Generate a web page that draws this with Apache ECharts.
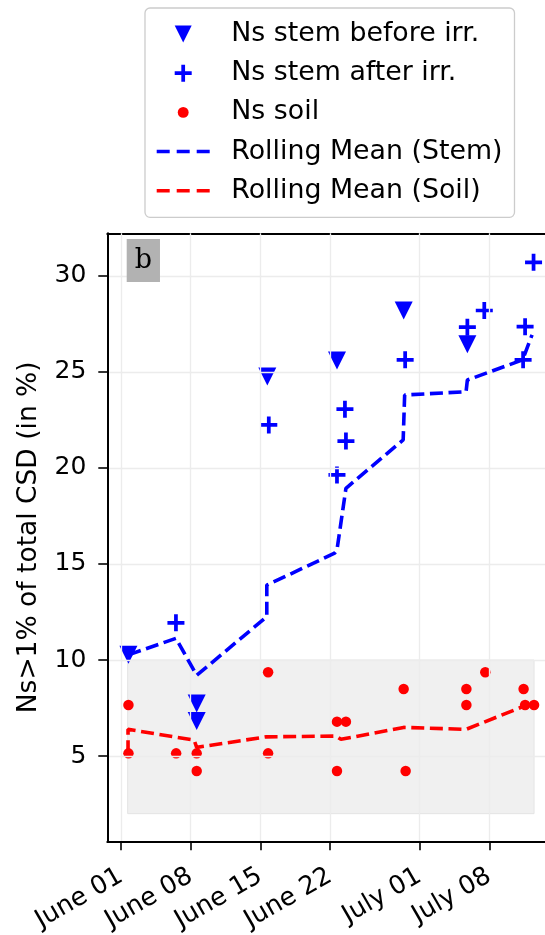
<!DOCTYPE html>
<html><head><meta charset="utf-8">
<script src="https://cdn.jsdelivr.net/npm/echarts@6/dist/echarts.min.js"></script>
<style>html,body{margin:0;padding:0;background:#fff}#c{width:545px;height:935px}</style>
</head><body><div id="c"></div>
<script>
// ---- tick labels ----
const xTickDates = ['2023-06-01','2023-06-08','2023-06-15','2023-06-22','2023-07-01','2023-07-08'];
const xTickLabels = ['June 01','June 08','June 15','June 22','July 01','July 08'];
const yTicks = [5,10,15,20,25,30];

// ---- Ns stem before irrigation ----
const beforeDates = ['2023-06-01 18:00','2023-06-08 14:30','2023-06-08 14:30','2023-06-15 16:48','2023-06-22 16:48','2023-06-29 09:36','2023-07-05 19:12'];
const beforeVals  = [10.27, 7.74, 6.82, 24.76, 25.60, 28.20, 26.44];

// ---- Ns stem after irrigation ----
const afterDates = ['2023-06-06 12:30','2023-06-15 20:24','2023-06-22 16:48','2023-06-23 12:00','2023-06-23 14:24','2023-06-29 13:12','2023-07-05 19:12','2023-07-07 12:00','2023-07-11 09:36','2023-07-11 14:24','2023-07-12 10:48'];
const afterVals  = [11.94, 22.24, 19.64, 23.06, 21.40, 25.63, 27.33, 28.20, 25.63, 27.36, 30.71];

// ---- Ns soil ----
const soilDates = ['2023-06-01 18:00','2023-06-01 18:00','2023-06-06 13:00','2023-06-08 14:30','2023-06-08 14:30','2023-06-15 18:43','2023-06-15 18:43','2023-06-22 16:48','2023-06-22 16:48','2023-06-23 14:24','2023-06-29 09:36','2023-06-29 14:24','2023-07-05 16:48','2023-07-05 16:48','2023-07-07 14:24','2023-07-11 10:48','2023-07-11 14:24','2023-07-12 12:00'];
const soilVals  = [7.66, 5.14, 5.14, 5.14, 4.22, 9.36, 5.14, 6.79, 4.22, 6.79, 8.49, 4.22, 8.49, 7.66, 9.36, 8.49, 7.66, 7.66];

// ---- Rolling mean (stem) ----
const stemMeanDates = ['2023-06-01 18:00','2023-06-06 12:30','2023-06-08 14:30','2023-06-15 15:36','2023-06-15 15:36','2023-06-22 11:02','2023-06-22 16:48','2023-06-23 14:24','2023-06-29 08:24','2023-06-29 12:00','2023-07-05 16:05','2023-07-05 19:12','2023-07-11 08:24','2023-07-12 07:12'];
const stemMeanVals  = [10.27, 11.13, 9.20, 12.26, 13.90, 15.56, 15.73, 18.94, 21.46, 23.80, 23.97, 24.58, 25.63, 26.93];

// ---- Rolling mean (soil) ----
const soilMeanDates = ['2023-06-01 17:00','2023-06-01 17:00','2023-06-08 08:24','2023-06-08 14:30','2023-06-15 14:24','2023-06-22 14:24','2023-06-23 02:24','2023-06-29 09:36','2023-07-05 16:05','2023-07-11 12:00','2023-07-12 12:00'];
const soilMeanVals  = [5.14, 6.39, 5.83, 5.45, 6.00, 6.04, 5.87, 6.49, 6.39, 7.60, 7.66];

// ---- shaded band ----
const bandDates = ['2023-06-01 16:00','2023-07-12 12:00'];
const bandVals = [2, 10];

const xMinDate = '2023-05-30 15:00', xMaxDate = '2023-07-13 14:24';
const yMin = 0.56, yMax = 32.22;

// dates -> days since June 1 (value axis)
const BASE = echarts.number.parseDate('2023-06-01').getTime();
const dayOf = d => (echarts.number.parseDate(d).getTime() - BASE) / 86400000;
const zip = (a, b) => a.map((d, i) => [dayOf(d), b[i]]);
const xTicks = xTickDates.map(dayOf);
const FONT = 'DejaVu Sans';
const PLUS = 'path://M39 0H61V39H100V61H61V100H39V61H0V39H39Z';
const TRI_DOWN = 'path://M0 0H100L50 100Z';
const DOT = 'path://M0 0M100 100M18 50A32 32 0 1 1 82 50A32 32 0 1 1 18 50Z';
const DASHES = 'path://M0 0H13V3.5H0Z M20 0H33V3.5H20Z M40 0H53V3.5H40Z';

const chart = echarts.init(document.getElementById('c'), null, {renderer: 'canvas'});
chart.setOption({
  animation: false,
  backgroundColor: '#fff',
  title: {
    text: 'b', left: 126.7, top: 239, z: 10,
    backgroundColor: '#b2b2b2', padding: [7, 8, 7, 8],
    textStyle: {fontFamily: 'DejaVu Serif', fontSize: 27, lineHeight: 29, fontWeight: 'normal', color: '#000'}
  },
  legend: {
    orient: 'vertical', left: 145, top: 8,
    padding: [11, 12, 11.5, 11.7],
    itemWidth: 53, itemHeight: 17, itemGap: 9.2,
    backgroundColor: 'rgba(255,255,255,0.8)', borderColor: '#cccccc', borderWidth: 1.3, borderRadius: 5,
    textStyle: {fontFamily: FONT, fontSize: 26.8, lineHeight: 30, color: '#000', padding: [0, 0, 0, 16.6]},
    data: [
      {name: 'Ns stem before irr.', icon: TRI_DOWN},
      {name: 'Ns stem after irr.', icon: PLUS},
      {name: 'Ns soil', icon: DOT},
      {name: 'Rolling Mean (Stem)', icon: DASHES},
      {name: 'Rolling Mean (Soil)', icon: DASHES}
    ]
  },
  grid: {left: 107.3, top: 233.3, right: 0, bottom: 93.7, containLabel: false, outerBoundsMode: 'none'},
  xAxis: [{
    type: 'value', min: dayOf(xMinDate), max: dayOf(xMaxDate), z: 3,
    axisLine: {show: true, onZero: false, lineStyle: {color: '#000', width: 2}},
    axisTick: {show: true, length: 9, lineStyle: {color: '#000', width: 1.6}, customValues: xTicks},
    axisLabel: {
      customValues: xTicks, rotate: 30, margin: 33,
      fontFamily: FONT, fontSize: 25.5, color: '#000',
      formatter: v => { const i = xTicks.findIndex(t => Math.abs(t - v) < 1e-4); return i >= 0 ? xTickLabels[i] : ''; }
    },
    splitLine: {show: true, lineStyle: {color: '#ececec', width: 1.3}}
  }, {
    type: 'value', position: 'top', min: dayOf(xMinDate), max: dayOf(xMaxDate),
    axisLine: {show: true, onZero: false, lineStyle: {color: '#000', width: 2}},
    axisTick: {show: false}, axisLabel: {show: false}, splitLine: {show: false}
  }],
  yAxis: {
    type: 'value', min: yMin, max: yMax, z: 3,
    name: 'Ns>1% of total CSD (in %)', nameLocation: 'middle', nameGap: 65,
    nameTextStyle: {fontFamily: FONT, fontSize: 26.5, color: '#000'},
    axisLine: {show: true, onZero: false, lineStyle: {color: '#000', width: 2}},
    axisTick: {show: true, length: 9, lineStyle: {color: '#000', width: 1.6}, customValues: yTicks},
    axisLabel: {customValues: yTicks, margin: 21, fontFamily: FONT, fontSize: 25, color: '#000'},
    splitLine: {show: true, lineStyle: {color: '#ececec', width: 1.3}}
  },
  series: [
    {
      name: 'Ns stem before irr.', type: 'scatter', symbol: 'triangle', symbolRotate: 180, symbolSize: 18,
      itemStyle: {color: '#0000ff', opacity: 1}, data: zip(beforeDates, beforeVals),
      markArea: {
        silent: true,
        itemStyle: {color: '#f0f0f0', borderColor: '#e4e4e4', borderWidth: 1},
        data: [[{xAxis: dayOf(bandDates[0]), yAxis: bandVals[0]}, {xAxis: dayOf(bandDates[1]), yAxis: bandVals[1]}]]
      }
    },
    {
      name: 'Ns stem after irr.', type: 'scatter', symbol: PLUS, symbolSize: 17,
      itemStyle: {color: '#0000ff', opacity: 1}, data: zip(afterDates, afterVals)
    },
    {
      name: 'Ns soil', type: 'scatter', symbol: 'circle', symbolSize: 10.5,
      itemStyle: {color: '#ff0000', opacity: 1}, data: zip(soilDates, soilVals)
    },
    {
      name: 'Rolling Mean (Stem)', type: 'line', symbol: 'none', z: 4,
      lineStyle: {color: '#0000ff', width: 3.6, type: [13, 5.6]}, itemStyle: {color: '#0000ff'},
      data: zip(stemMeanDates, stemMeanVals)
    },
    {
      name: 'Rolling Mean (Soil)', type: 'line', symbol: 'none', z: 4,
      lineStyle: {color: '#ff0000', width: 3.6, type: [13, 5.6]}, itemStyle: {color: '#ff0000'},
      data: zip(soilMeanDates, soilMeanVals)
    }
  ]
});
</script></body></html>
